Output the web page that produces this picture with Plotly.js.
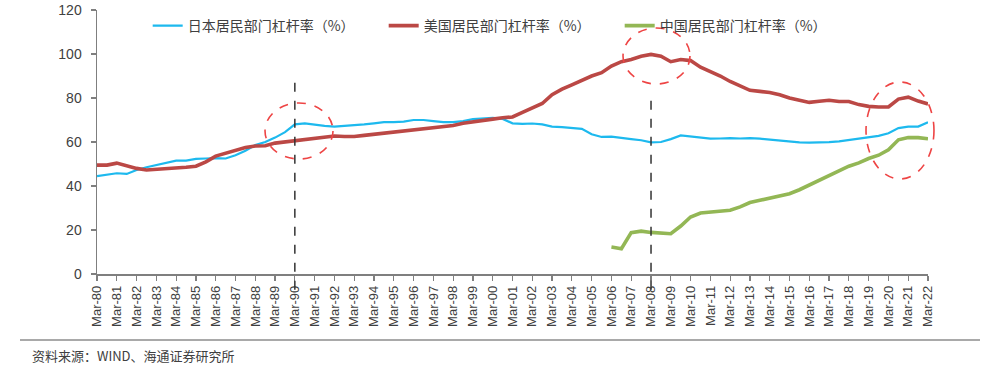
<!DOCTYPE html>
<html>
<head>
<meta charset="utf-8">
<script src="https://cdn.plot.ly/plotly-3.0.1.min.js"></script>
<style>html,body{margin:0;padding:0;background:#fff;}#chart{width:1000px;height:369px;}</style>
</head>
<body>
<div id="chart"></div>
<script>
// Semiannual observation dates: Mar-80 .. Mar-22
const dates = [];
for (let y = 1980; y <= 2022; y++) {
  dates.push(y + '-03-01');
  if (y < 2022) dates.push(y + '-09-01');
}

const seriesNames = ['日本居民部门杠杆率（%）', '美国居民部门杠杆率（%）', '中国居民部门杠杆率（%）'];

const japan = [
  44.5, 45.0, 45.8, 45.5, 47.3, 48.5, 49.5, 50.5, 51.5, 51.5,   // 80-84
  52.3, 52.5, 52.7, 52.5, 54.0, 56.0, 58.6, 60.0, 62.0, 64.5,   // 85-89
  68.0, 68.5, 67.8, 67.3, 67.0, 67.3, 67.5, 68.0, 68.5, 69.0,   // 90-94
  69.0, 69.3, 70.0, 70.0, 69.5, 69.0, 69.0, 69.5, 70.4, 70.8,   // 95-99
  71.0, 70.5, 68.5, 68.2, 68.4, 68.0, 67.0, 66.8, 66.4, 66.0,   // 00-04
  63.5, 62.3, 62.4, 62.0, 61.3, 60.8, 59.8, 60.0, 61.3, 63.0,   // 05-09
  62.5, 61.8, 61.5, 61.6, 61.8, 61.6, 61.8, 61.5, 61.0, 60.8,   // 10-14
  60.3, 59.8, 59.7, 59.7, 59.9, 60.3, 61.0, 61.7, 62.3, 62.8,   // 15-19
  64.0, 66.3, 67.0, 67.0, 69.0                                  // 20-22
];

const usa = [
  49.5, 49.5, 50.4, 49.0, 48.0, 47.3, 47.5, 47.8, 48.0, 48.5,   // 80-84
  49.0, 51.0, 53.6, 55.0, 56.4, 57.5, 58.2, 58.3, 59.5, 60.0,   // 85-89
  60.5, 61.0, 61.8, 62.3, 62.7, 62.5, 62.5, 63.0, 63.5, 64.0,   // 90-94
  64.3, 65.0, 65.5, 66.0, 66.5, 67.0, 67.5, 68.5, 69.2, 70.0,   // 95-99
  70.4, 71.0, 71.4, 73.5, 75.5, 77.5, 81.5, 84.0, 86.0, 88.0,   // 00-04
  90.0, 91.5, 94.5, 96.5, 97.5, 99.0, 99.8, 99.0, 96.5, 97.5,   // 05-09
  97.0, 94.0, 92.0, 90.0, 87.5, 85.5, 83.5, 83.0, 82.5, 81.5,   // 10-14
  80.0, 79.0, 78.0, 78.5, 79.0, 78.4, 78.4, 77.0, 76.2, 75.9,   // 15-19
  75.9, 79.5, 80.4, 78.6, 77.3                                  // 20-22
];

const china = [
  null, null, null, null, null, null, null, null, null, null,   // 80-84
  null, null, null, null, null, null, null, null, null, null,   // 85-89
  null, null, null, null, null, null, null, null, null, null,   // 90-94
  null, null, null, null, null, null, null, null, null, null,   // 95-99
  null, null, null, null, null, null, null, null, null, null,   // 00-04
  null, null, 12.3, 11.5, 18.8, 19.5, 18.9, 18.5, 18.3, 21.8,   // 05-09
  25.9, 27.7, 28.0, 28.3, 29.0, 30.5, 32.5, 33.5, 34.5, 35.5,   // 10-14
  36.5, 38.3, 40.5, 42.7, 45.0, 47.0, 49.0, 50.5, 52.5, 54.0,   // 15-19
  56.5, 61.0, 62.0, 62.0, 61.5                                  // 20-22
];

const markerDates = ['1990-03-01', '2008-03-01'];
const sourceText = '资料来源：WIND、海通证券研究所';

const traces = [
  {x: dates, y: japan, name: seriesNames[0], type: 'scatter', mode: 'lines',
   line: {color: '#1DB9EE', width: 2.2}},
  {x: dates, y: usa, name: seriesNames[1], type: 'scatter', mode: 'lines',
   line: {color: '#BB4845', width: 3.6}},
  {x: dates, y: china, name: seriesNames[2], type: 'scatter', mode: 'lines',
   line: {color: '#93B755', width: 3.6}, connectgaps: false}
];

const ellipse = (x0, x1, y0, y1) => ({type: 'circle', xref: 'paper', yref: 'paper',
  x0: x0, x1: x1, y0: y0, y1: y1, line: {color: '#EE4444', width: 1.6, dash: 'dash'}});

const layout = {
  width: 1000, height: 369,
  margin: {l: 97, r: 72, t: 10, b: 95},
  paper_bgcolor: '#ffffff', plot_bgcolor: '#ffffff',
  font: {family: 'Liberation Sans, Arial, sans-serif', color: '#404040', size: 13},
  showlegend: true,
  legend: {orientation: 'h', x: 0.061, xanchor: 'left', y: 1.0, yanchor: 'top',
    bgcolor: 'rgba(0,0,0,0)', entrywidth: 191, entrywidthmode: 'pixels',
    font: {family: 'Noto Sans CJK SC, sans-serif', size: 14, color: '#404040'}},
  xaxis: {type: 'date', range: ['1980-03-01', '2022-03-01'], tick0: '1980-03-01', dtick: 'M12',
    tickformat: '%b-%y', tickangle: -90, showgrid: false, zeroline: false,
    showline: true, linecolor: '#7f7f7f', linewidth: 1.5, ticks: 'outside', ticklen: 5,
    tickcolor: '#7f7f7f', tickwidth: 1.2,
    tickfont: {family: 'Liberation Sans, Arial, sans-serif', size: 13, color: '#404040'}},
  yaxis: {range: [0, 120], dtick: 20, showgrid: false, zeroline: false,
    showline: true, linecolor: '#7f7f7f', linewidth: 1.5, ticks: 'outside', ticklen: 5,
    tickcolor: '#7f7f7f', tickwidth: 1.2, ticklabelstandoff: 6,
    tickfont: {family: 'Liberation Sans, Arial, sans-serif', size: 14, color: '#404040'}},
  shapes: [
    {type: 'line', xref: 'x', yref: 'paper', x0: markerDates[0], x1: markerDates[0], y0: -0.06, y1: 0.731,
     line: {color: '#333333', width: 1.5, dash: 'dash'}},
    {type: 'line', xref: 'x', yref: 'paper', x0: markerDates[1], x1: markerDates[1], y0: -0.06, y1: 0.670,
     line: {color: '#333333', width: 1.5, dash: 'dash'}},
    ellipse(0.2022, 0.2840, 0.4356, 0.6477),
    ellipse(0.6330, 0.7136, 0.7197, 0.9318),
    ellipse(0.9254, 1.0072, 0.3598, 0.7273),
    {type: 'line', xref: 'paper', yref: 'paper', x0: -0.0927, x1: 1.0626, y0: -0.25, y1: -0.25,
     line: {color: '#8c8c8c', width: 1.5}}
  ],
  annotations: [
    {xref: 'paper', yref: 'paper', x: -0.0806, y: -0.307, xanchor: 'left', yanchor: 'middle',
     text: sourceText, showarrow: false,
     font: {family: 'Noto Sans CJK SC, sans-serif', size: 13, color: '#404040'}}
  ]
};

Plotly.newPlot('chart', traces, layout, {displayModeBar: false, staticPlot: true});
</script>
</body>
</html>
